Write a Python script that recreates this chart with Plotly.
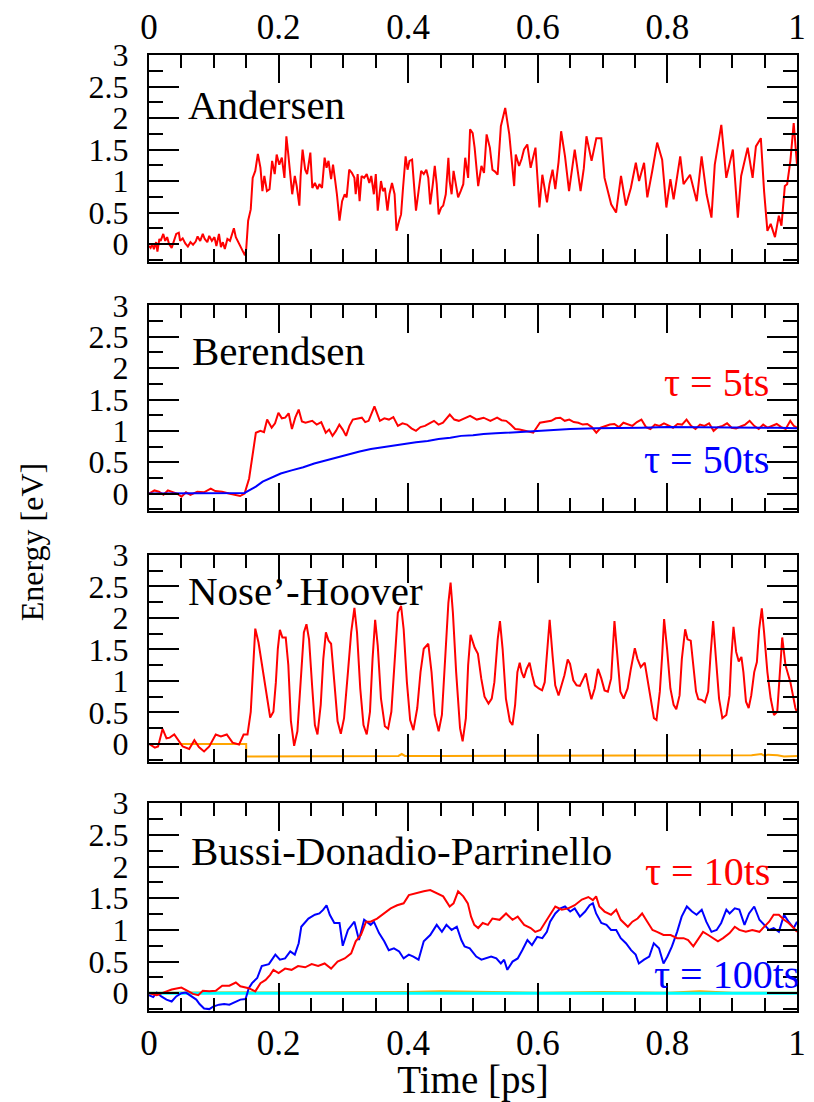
import plotly.graph_objects as go

# ---------------- data ----------------
# Panel 1: Andersen
and_t = [0.0, 0.0025, 0.005, 0.0076, 0.011, 0.013, 0.016, 0.018, 0.022, 0.025, 0.028, 0.031, 0.035, 0.038,
         0.042, 0.046, 0.048, 0.052, 0.056, 0.06, 0.064, 0.068, 0.072, 0.075, 0.079, 0.083, 0.086, 0.09,
         0.093, 0.097, 0.101, 0.104, 0.108, 0.111, 0.114, 0.117, 0.121, 0.125, 0.128, 0.131, 0.134, 0.137,
         0.14, 0.144, 0.148, 0.15, 0.153, 0.157, 0.16, 0.164, 0.168, 0.172, 0.175, 0.178, 0.182, 0.186,
         0.19, 0.194, 0.197, 0.201, 0.205, 0.209, 0.212, 0.215, 0.218, 0.221, 0.225, 0.228, 0.232, 0.234,
         0.237, 0.241, 0.244, 0.247, 0.249, 0.252, 0.256, 0.26, 0.263, 0.267, 0.271, 0.274, 0.277, 0.281,
         0.284, 0.287, 0.29, 0.294, 0.298, 0.302, 0.305, 0.309, 0.313, 0.317, 0.319, 0.322, 0.325, 0.328,
         0.332, 0.336, 0.34, 0.343, 0.347, 0.35, 0.353, 0.358, 0.361, 0.364, 0.368, 0.371, 0.375, 0.379,
         0.382, 0.386, 0.389, 0.392, 0.396, 0.399, 0.402, 0.406, 0.409, 0.412, 0.416, 0.42, 0.424, 0.428,
         0.431, 0.434, 0.438, 0.441, 0.444, 0.447, 0.451, 0.454, 0.458, 0.462, 0.464, 0.467, 0.47, 0.474,
         0.477, 0.481, 0.485, 0.488, 0.4925, 0.4955, 0.4995, 0.5025, 0.508, 0.513, 0.517, 0.521, 0.526,
         0.53, 0.534, 0.538, 0.543, 0.5497, 0.553, 0.556, 0.56, 0.5635, 0.566, 0.5711, 0.575, 0.5787,
         0.5838, 0.589, 0.5964, 0.6025, 0.607, 0.6142, 0.618, 0.6228, 0.627, 0.632, 0.636, 0.642, 0.6482,
         0.652, 0.657, 0.666, 0.671, 0.6751, 0.683, 0.6903, 0.698, 0.703, 0.708, 0.7132, 0.7208, 0.7284,
         0.736, 0.7436, 0.7513, 0.7563, 0.764, 0.769, 0.7766, 0.7842, 0.7919, 0.7984, 0.8046, 0.8096,
         0.8198, 0.8249, 0.835, 0.8452, 0.8528, 0.8604, 0.868, 0.8731, 0.8832, 0.8909, 0.901, 0.9087,
         0.9138, 0.9239, 0.9315, 0.9366, 0.9442, 0.9492, 0.9543, 0.9594, 0.966, 0.972, 0.976, 0.9812,
         0.9848, 0.9898, 0.9949, 1.0]
and_e = [-0.03, -0.06, 0.0, -0.08, 0.03, -0.12, 0.08, 0.05, 0.16, 0.05, 0.11, 0.0, -0.06, 0.05,
         0.16, 0.18, 0.05, 0.09, 0.01, -0.04, 0.03, -0.01, 0.04, 0.12, 0.05, 0.16, 0.08, 0.03,
         0.13, 0.05, 0.11, -0.03, 0.16, -0.05, 0.03, -0.08, 0.08, 0.05, 0.17, 0.25, 0.11, 0.05,
         0.0, -0.08, -0.18, -0.08, 0.37, 0.55, 1.05, 1.16, 1.43, 1.21, 0.84, 1.08, 0.84, 0.87,
         1.32, 1.11, 1.42, 1.26, 1.37, 1.05, 1.71, 1.42, 1.11, 0.79, 1.08, 0.92, 0.61, 1.08,
         1.5, 1.18, 1.11, 1.34, 1.45, 0.89, 0.97, 0.87, 0.95, 0.89, 1.37, 1.21, 1.32, 1.03,
         1.26, 1.03, 0.79, 0.37, 0.68, 0.79, 0.74, 1.18, 1.13, 1.05, 0.79, 1.11, 0.68, 1.08,
         1.05, 1.11, 0.97, 1.08, 0.79, 1.11, 0.53, 1.0, 0.84, 0.89, 0.53, 0.79, 0.97, 0.79,
         0.21, 0.37, 0.47, 0.89, 1.39, 1.18, 1.32, 1.34, 0.95, 0.53, 0.84, 1.16, 1.11, 1.18,
         1.05, 0.63, 0.95, 1.24, 0.95, 0.47, 0.58, 0.61, 0.79, 1.37, 1.0, 0.79, 1.16, 0.89,
         0.74, 0.84, 0.95, 1.37, 1.05, 1.82, 1.76, 1.53, 0.92, 1.24, 1.13, 1.74, 1.53,
         1.18, 1.15, 1.1, 1.87, 2.16, 1.95, 1.74, 1.3, 0.92, 1.42, 1.24, 1.35, 1.5,
         1.58, 1.21, 1.53, 0.58, 1.1, 0.66, 0.95, 1.18, 0.87, 1.3, 1.79, 1.39, 0.84,
         1.16, 1.5, 0.84, 1.2, 1.71, 1.32, 1.68, 1.68, 1.05, 0.85, 0.63, 0.5, 1.08,
         0.61, 0.89, 1.29, 1.0, 1.29, 0.74, 1.16, 1.61, 1.34, 0.58, 1.03, 0.71,
         1.39, 0.95, 1.1, 0.68, 1.39, 0.79, 0.42, 1.26, 1.89, 1.05, 1.5, 0.42,
         1.08, 1.53, 1.05, 1.55, 1.68, 0.84, 0.21, 0.32, 0.11, 0.45, 0.29, 0.92,
         0.95, 1.32, 1.92, 1.26]

# Panel 2: Berendsen
ber5_t = [0.0, 0.0084, 0.0153, 0.0223, 0.0292, 0.0362, 0.0431, 0.0501, 0.0571, 0.064, 0.0745, 0.0849,
          0.0953, 0.1023, 0.1127, 0.1232, 0.1336, 0.1406, 0.1475, 0.1545, 0.1649, 0.1719, 0.1775, 0.1823,
          0.1893, 0.1945, 0.1997, 0.205, 0.2102, 0.2155, 0.2206, 0.226, 0.231, 0.236, 0.2415, 0.2519,
          0.2588, 0.2658, 0.2728, 0.2780, 0.2832, 0.2885, 0.2937, 0.2990, 0.3041, 0.3093, 0.3145, 0.3215,
          0.3285, 0.3337, 0.3389, 0.3479, 0.3563, 0.3632, 0.3702, 0.3771, 0.3841, 0.3911, 0.3981, 0.405,
          0.412, 0.419, 0.4259, 0.4328, 0.4398, 0.4468, 0.4537, 0.4642, 0.4711, 0.4781, 0.4868, 0.4955,
          0.5059, 0.5163, 0.5268, 0.5372, 0.5441, 0.5511, 0.5581, 0.5651, 0.572, 0.579, 0.5859, 0.5929,
          0.6033, 0.612, 0.6207, 0.6277, 0.6347, 0.6416, 0.6486, 0.6555, 0.6625, 0.6694, 0.6764, 0.6833,
          0.6903, 0.6972, 0.7042, 0.7112, 0.7182, 0.7251, 0.7321, 0.739, 0.746, 0.753, 0.7599, 0.7669,
          0.7738, 0.7808, 0.7878, 0.7947, 0.8017, 0.8087, 0.8156, 0.8226, 0.8295, 0.8365, 0.8434, 0.8504,
          0.8573, 0.8643, 0.8713, 0.8782, 0.8852, 0.8921, 0.8991, 0.906, 0.913, 0.92, 0.9269, 0.9339,
          0.9409, 0.9478, 0.9548, 0.9617, 0.9687, 0.9757, 0.9826, 0.9896, 0.995, 1.0]
ber5_e = [0.0, 0.05, 0.03, -0.02, 0.05, 0.03, 0.0, -0.05, 0.02, -0.02, 0.03, 0.02,
          0.08, 0.04, 0.03, 0.0, -0.02, -0.04, 0.0, 0.24, 0.97, 1.0, 0.98, 1.18,
          1.05, 1.12, 1.29, 1.2, 1.21, 1.28, 1.03, 1.22, 1.34, 1.15, 1.13, 1.16,
          1.1, 1.14, 0.97, 1.02, 0.92, 1.0, 1.1, 1.02, 0.92, 1.08, 1.18, 1.2,
          1.21, 1.14, 1.16, 1.39, 1.16, 1.2, 1.18, 1.22, 1.08, 1.12, 1.1, 1.04,
          1.0, 1.06, 1.08, 1.12, 1.16, 1.1, 1.13, 1.26, 1.18, 1.16, 1.2, 1.24,
          1.18, 1.21, 1.16, 1.21, 1.17, 1.16, 1.1, 1.03, 1.02, 1.0, 0.98, 0.97,
          1.13, 1.14, 1.16, 1.2, 1.21, 1.16, 1.18, 1.14, 1.13, 1.1, 1.11, 1.06,
          0.97, 1.05, 1.08, 1.1, 1.11, 1.06, 1.13, 1.1, 1.08, 1.14, 1.18, 1.06,
          1.03, 1.1, 1.08, 1.12, 1.08, 1.05, 1.11, 1.1, 1.18, 1.08, 1.03, 1.1,
          1.08, 1.12, 1.0, 1.06, 1.08, 1.12, 1.05, 1.04, 1.07, 1.1, 1.16, 1.08,
          1.03, 1.1, 1.05, 1.08, 1.11, 1.06, 1.03, 1.16, 1.08, 1.05]

ber50_t = [0.0, 0.05, 0.1, 0.1475, 0.1545, 0.1649, 0.1754, 0.19, 0.2033, 0.22, 0.2381, 0.255, 0.2729,
           0.29, 0.3077, 0.325, 0.3424, 0.36, 0.3772, 0.395, 0.412, 0.43, 0.4468, 0.465, 0.4816, 0.5,
           0.5163, 0.535, 0.5511, 0.575, 0.5999, 0.6207, 0.65, 0.6903, 0.72, 0.7599, 0.8, 0.8295,
           0.87, 0.8991, 0.94, 0.97, 1.0]
ber50_e = [0.0, 0.0, 0.0, 0.01, 0.05, 0.11, 0.19, 0.26, 0.32, 0.37, 0.42, 0.48, 0.53,
           0.58, 0.62, 0.67, 0.71, 0.74, 0.76, 0.79, 0.82, 0.84, 0.87, 0.89, 0.92, 0.93,
           0.95, 0.96, 0.97, 0.99, 1.0, 1.02, 1.03, 1.04, 1.04, 1.05, 1.06, 1.06,
           1.06, 1.06, 1.05, 1.05, 1.04]

# Panel 3: Nose-Hoover
nh_t = [0.0, 0.0015, 0.009, 0.014, 0.021, 0.027, 0.032, 0.039, 0.045, 0.052, 0.062, 0.07, 0.077, 0.085,
        0.093, 0.103, 0.111, 0.12, 0.129, 0.139, 0.146, 0.152, 0.157, 0.1602, 0.164, 0.169, 0.175, 0.182,
        0.187, 0.192, 0.1958, 0.1988, 0.202, 0.2059, 0.2110, 0.215, 0.219, 0.224, 0.229, 0.234, 0.239,
        0.243, 0.247, 0.252, 0.256, 0.26, 0.265, 0.269, 0.273, 0.277, 0.281, 0.286, 0.291, 0.296, 0.301,
        0.307, 0.312, 0.317, 0.321, 0.326, 0.331, 0.336, 0.341, 0.345, 0.349, 0.353, 0.358, 0.364, 0.369,
        0.374, 0.379, 0.384, 0.389, 0.393, 0.398, 0.403, 0.408, 0.414, 0.419, 0.424, 0.431, 0.436, 0.441,
        0.447, 0.452, 0.457, 0.462, 0.4654, 0.469, 0.474, 0.48, 0.484, 0.489, 0.4925, 0.4962, 0.5025,
        0.5076, 0.5127, 0.5178, 0.5239, 0.5289, 0.533, 0.5381, 0.5416, 0.5457, 0.5508, 0.5569, 0.5609,
        0.565, 0.5685, 0.5721, 0.5751, 0.5787, 0.5827, 0.5873, 0.5914, 0.5954, 0.6015, 0.6066, 0.6107,
        0.6142, 0.6183, 0.6228, 0.6269, 0.632, 0.6371, 0.6411, 0.6462, 0.6497, 0.6548, 0.6599, 0.665,
        0.67, 0.6741, 0.6787, 0.6827, 0.6878, 0.6929, 0.698, 0.703, 0.7081, 0.7132, 0.7183, 0.7233,
        0.7274, 0.7325, 0.7386, 0.7436, 0.7497, 0.7538, 0.7589, 0.765, 0.769, 0.7741, 0.7792, 0.7832,
        0.7883, 0.7919, 0.7949, 0.7995, 0.8046, 0.8096, 0.8137, 0.8188, 0.8223, 0.8274, 0.831, 0.836,
        0.8401, 0.8442, 0.8477, 0.8528, 0.8579, 0.8629, 0.8665, 0.8706, 0.8746, 0.8797, 0.8848, 0.8909,
        0.8959, 0.8985, 0.902, 0.9061, 0.9101, 0.9142, 0.9173, 0.9213, 0.9254, 0.9294, 0.934, 0.9381,
        0.9416, 0.9457, 0.9492, 0.9543, 0.9594, 0.9645, 0.9695, 0.972, 0.9772, 0.9822, 0.9898, 0.9975,
        1.0]
nh_e = [0.0, -0.01, -0.06, -0.04, 0.24, 0.09, 0.1, 0.15, 0.07, -0.04, -0.08, 0.06, -0.05, -0.12,
        -0.04, 0.15, 0.12, 0.15, 0.02, -0.01, 0.15, 0.15, 0.51, 1.14, 1.83, 1.61, 1.19, 0.72,
        0.42, 0.51, 0.98, 1.51, 1.81, 1.69, 1.69, 1.25, 0.36, -0.03, 0.2, 0.98, 1.77,
        1.9, 1.66, 0.88, 0.3, 0.15, 0.62, 1.35, 1.77, 1.64, 1.59, 0.98, 0.36, 0.16, 0.41,
        1.14, 1.77, 2.16, 1.77, 0.88, 0.3, 0.15, 0.51, 1.35, 1.97, 1.56, 0.72, 0.28, 0.24,
        0.51, 1.35, 2.08, 2.19, 1.82, 0.98, 0.38, 0.22, 0.57, 1.14, 1.51, 1.59, 1.14, 0.46,
        0.2, 0.46, 1.4, 2.24, 2.56, 2.08, 1.14, 0.25, 0.04, 0.41, 1.25, 1.73, 1.53,
        1.43, 1.04, 0.75, 0.64, 0.72, 0.98, 1.66, 1.95, 1.51, 0.72, 0.36, 0.3,
        0.62, 1.14, 1.29, 1.14, 1.05, 1.19, 1.29, 1.09, 0.93, 0.88, 0.85, 0.98,
        1.4, 1.97, 1.4, 0.93, 0.77, 0.93, 1.09, 1.34, 1.27, 1.01, 0.93, 0.92,
        1.04, 1.12, 0.88, 0.71, 0.88, 1.19, 1.04, 0.85, 0.83, 1.04, 1.95, 1.3,
        0.83, 0.72, 0.88, 1.19, 1.52, 1.35, 1.22, 1.29, 1.04, 0.72, 0.41, 0.38,
        0.83, 1.4, 1.98, 1.51, 0.88, 0.62, 0.55, 0.77, 1.35, 1.82, 1.66, 1.64,
        1.19, 0.83, 0.71, 0.7, 0.66, 0.83, 1.4, 1.95, 1.4, 0.72, 0.41, 0.46,
        0.77, 1.35, 1.86, 1.46, 1.31, 1.38, 1.14, 0.67, 0.57, 0.77, 1.14, 1.3,
        1.82, 2.15, 1.77, 1.14, 0.72, 0.46, 0.51, 0.9, 1.69, 1.25, 0.98, 0.57,
        0.5]

nh_orange_t = [0.0, 0.15, 0.1501, 0.2, 0.25, 0.3, 0.35, 0.385, 0.39, 0.395, 0.45, 0.5, 0.55, 0.6, 0.65,
               0.7, 0.75, 0.8, 0.85, 0.9, 0.93, 0.945, 0.95, 0.955, 0.97, 0.98, 1.0]
nh_orange_e = [0.0, 0.0, -0.2, -0.2, -0.2, -0.19, -0.19, -0.19, -0.16, -0.19, -0.19, -0.19, -0.19, -0.18,
               -0.18, -0.19, -0.18, -0.18, -0.19, -0.18, -0.18, -0.16, -0.19, -0.17, -0.18, -0.2, -0.19]

# Panel 4: Bussi-Donadio-Parrinello
bdp10_t = [0.0, 0.012, 0.022, 0.035, 0.05, 0.057, 0.068, 0.076, 0.083, 0.093, 0.103, 0.113, 0.124, 0.134,
           0.141, 0.154, 0.164, 0.172, 0.18, 0.187, 0.192, 0.2, 0.21, 0.22, 0.23, 0.241, 0.251, 0.261,
           0.271, 0.281, 0.291, 0.302, 0.312, 0.319, 0.327, 0.335, 0.342, 0.352, 0.363, 0.373, 0.383,
           0.393, 0.401, 0.411, 0.424, 0.434, 0.444, 0.454, 0.464, 0.47, 0.477, 0.485, 0.492, 0.497,
           0.502, 0.508, 0.515, 0.523, 0.53, 0.541, 0.551, 0.561, 0.569, 0.579, 0.589, 0.596, 0.604,
           0.612, 0.619, 0.627, 0.637, 0.647, 0.657, 0.668, 0.678, 0.685, 0.69, 0.695, 0.703, 0.713,
           0.721, 0.728, 0.739, 0.746, 0.754, 0.761, 0.769, 0.777, 0.784, 0.794, 0.805, 0.815, 0.825,
           0.832, 0.84, 0.848, 0.855, 0.863, 0.871, 0.878, 0.886, 0.896, 0.904, 0.911, 0.921, 0.931,
           0.942, 0.949, 0.957, 0.964, 0.972, 0.98, 0.987, 0.995, 1.0]
bdp10_e = [0.0, -0.03, 0.01, 0.06, 0.09, 0.05, -0.01, -0.03, 0.04, 0.03, 0.04, 0.12, 0.12, 0.17,
           0.11, 0.08, 0.03, 0.16, 0.21, 0.29, 0.37, 0.32, 0.39, 0.37, 0.43, 0.41, 0.46, 0.43,
           0.47, 0.39, 0.5, 0.55, 0.63, 0.82, 0.92, 1.13, 1.13, 1.18, 1.26, 1.34, 1.39,
           1.42, 1.55, 1.58, 1.61, 1.63, 1.58, 1.53, 1.37, 1.42, 1.61, 1.53, 1.42, 1.21,
           1.08, 1.03, 1.11, 1.08, 1.18, 1.16, 1.26, 1.16, 1.21, 1.08, 1.03, 0.97, 1.0,
           1.13, 1.26, 1.37, 1.32, 1.34, 1.39, 1.48, 1.52, 1.47, 1.53, 1.37, 1.29, 1.24,
           1.32, 1.16, 1.05, 1.13, 1.18, 1.26, 1.13, 1.0, 0.97, 0.92, 0.92, 0.87, 0.87,
           0.84, 0.74, 0.87, 0.97, 0.92, 0.87, 0.82, 0.87, 0.95, 1.05, 1.0, 0.97, 1.0,
           0.97, 1.05, 1.13, 1.24, 1.24, 1.16, 1.11, 1.03, 0.97]

bdp100_t = [0.0, 0.0065, 0.012, 0.019, 0.027, 0.035, 0.042, 0.05, 0.057, 0.065, 0.073, 0.078, 0.085,
            0.093, 0.099, 0.108, 0.116, 0.124, 0.134, 0.141, 0.149, 0.154, 0.159, 0.167, 0.174, 0.185,
            0.195, 0.202, 0.21, 0.218, 0.225, 0.231, 0.235, 0.246, 0.256, 0.263, 0.269, 0.274, 0.279,
            0.286, 0.294, 0.299, 0.307, 0.317, 0.324, 0.332, 0.342, 0.347, 0.355, 0.363, 0.37, 0.378,
            0.386, 0.393, 0.401, 0.408, 0.416, 0.424, 0.434, 0.444, 0.452, 0.459, 0.467, 0.475, 0.482,
            0.487, 0.495, 0.505, 0.513, 0.52, 0.528, 0.536, 0.543, 0.548, 0.553, 0.561, 0.569, 0.576,
            0.584, 0.591, 0.599, 0.607, 0.614, 0.619, 0.627, 0.635, 0.642, 0.65, 0.657, 0.665, 0.673,
            0.68, 0.685, 0.69, 0.698, 0.706, 0.713, 0.721, 0.728, 0.736, 0.744, 0.751, 0.756, 0.764,
            0.772, 0.779, 0.787, 0.794, 0.8, 0.807, 0.815, 0.822, 0.83, 0.838, 0.845, 0.853, 0.86,
            0.868, 0.876, 0.883, 0.891, 0.896, 0.904, 0.911, 0.919, 0.926, 0.934, 0.942, 0.949, 0.957,
            0.964, 0.972, 0.98, 0.987, 0.995, 1.0]
bdp100_e = [-0.03, -0.06, 0.01, -0.05, -0.1, -0.13, -0.05, 0.0, 0.01, -0.04, -0.1, -0.17, -0.24,
            -0.25, -0.21, -0.18, -0.17, -0.18, -0.13, -0.1, -0.09, 0.08, 0.16, 0.24, 0.43, 0.46,
            0.61, 0.53, 0.55, 0.66, 0.61, 0.79, 1.05, 1.18, 1.24, 1.26, 1.32, 1.39, 1.24,
            1.11, 1.11, 0.75, 1.0, 1.13, 0.84, 1.16, 1.08, 1.13, 0.95, 0.82, 0.68, 0.71,
            0.66, 0.55, 0.61, 0.58, 0.53, 0.82, 0.92, 1.08, 0.97, 1.08, 1.0, 1.05, 0.84,
            0.74, 0.71, 0.58, 0.53, 0.55, 0.58, 0.55, 0.47, 0.53, 0.37, 0.5, 0.55, 0.68,
            0.84, 0.76, 0.89, 0.87, 0.97, 1.13, 1.26, 1.34, 1.37, 1.29, 1.34, 1.21, 1.29,
            1.39, 1.42, 1.26, 1.11, 1.08, 1.0, 1.0, 0.87, 0.79, 0.68, 0.61, 0.47, 0.53,
            0.58, 0.79, 0.71, 0.47, 0.58, 0.74, 0.97, 1.21, 1.37, 1.29, 1.24, 1.32, 1.13,
            0.97, 1.0, 1.11, 1.32, 1.26, 1.34, 1.32, 1.08, 1.26, 1.37, 1.16, 1.08, 1.0,
            1.03, 0.97, 1.24, 1.13, 1.03, 1.13]

bdp_orange_t = [0.0, 0.1, 0.2, 0.3, 0.4, 0.45, 0.5, 0.6, 0.7, 0.8, 0.85, 0.9, 1.0]
bdp_orange_e = [0.01, 0.01, 0.01, 0.01, 0.02, 0.03, 0.02, 0.01, 0.02, 0.01, 0.03, 0.01, 0.01]
bdp_cyan_t = [0.0, 0.1, 0.2, 0.3, 0.4, 0.5, 0.6, 0.7, 0.8, 0.9, 1.0]
bdp_cyan_e = [0.0, 0.0, 0.01, 0.0, 0.0, 0.01, 0.0, 0.0, 0.01, 0.0, 0.0]

panel_titles = ["Andersen", "Berendsen", "Nose\u2019-Hoover", "Bussi-Donadio-Parrinello"]
x_title = "Time [ps]"
y_title = "Energy [eV]"

# ---------------- figure ----------------
RED, BLUE, ORANGE, CYAN = "#ff0000", "#0000ff", "#ffa500", "#00ffff"
FONT = "Liberation Serif, Times New Roman, serif"

fig = go.Figure()

def line(t, e, color, ax, width=2):
    fig.add_trace(go.Scatter(x=t, y=e, mode="lines", line=dict(color=color, width=width),
                             xaxis="x" + ax, yaxis="y" + ax, showlegend=False, hoverinfo="skip"))

line(and_t, and_e, RED, "")
line(ber5_t, ber5_e, RED, "2")
line(ber50_t, ber50_e, BLUE, "2")
line(nh_orange_t, nh_orange_e, ORANGE, "3")
line(nh_t, nh_e, RED, "3")
line(bdp_orange_t, bdp_orange_e, ORANGE, "4")
line(bdp_cyan_t, bdp_cyan_e, CYAN, "4", 3)
line(bdp100_t, bdp100_e, BLUE, "4")
line(bdp10_t, bdp10_e, RED, "4")

domains = [[0.7838, 1.0], [0.5229, 0.738], [0.2609, 0.4771], [0.0, 0.2173]]
layout = dict(width=814, height=1102, margin=dict(l=149, r=8, t=50, b=90),
              paper_bgcolor="white", plot_bgcolor="white",
              font=dict(family=FONT, size=34, color="black"))

for i, dom in enumerate(domains, start=1):
    sx = "" if i == 1 else str(i)
    xa = dict(domain=[0, 1], range=[0, 1], anchor="y" + sx, showgrid=False, zeroline=False,
              showline=True, linecolor="black", linewidth=2, mirror="allticks",
              ticks="inside", ticklen=28, tickwidth=2, tickcolor="black",
              tick0=0, dtick=0.2,
              minor=dict(ticks="inside", ticklen=13, tickwidth=2, tickcolor="black", dtick=0.05, showgrid=False),
              showticklabels=(i in (1, 4)), tickfont=dict(size=35, family=FONT))
    if i == 1:
        xa["side"] = "top"
    if i == 4:
        xa["title"] = dict(text=x_title, font=dict(size=39, family=FONT), standoff=4)
    ya = dict(domain=dom, range=[-0.28, 3.0], anchor="x" + sx, showgrid=False, zeroline=False,
              showline=True, linecolor="black", linewidth=2, mirror="allticks",
              ticks="inside", ticklen=30, tickwidth=2, tickcolor="black",
              tick0=0, dtick=0.5,
              minor=dict(ticks="inside", ticklen=14, tickwidth=2, tickcolor="black", dtick=0.25, showgrid=False),
              tickfont=dict(size=32, family=FONT), ticklabelstandoff=12)
    layout["xaxis" + sx] = xa
    layout["yaxis" + sx] = ya

ann = []
label_pos = [(0.057, 2.2), (0.063, 2.27), (0.057, 2.42), (0.062, 2.24)]
for i, (txt, (ax_, ay_)) in enumerate(zip(panel_titles, label_pos), start=1):
    sx = "" if i == 1 else str(i)
    ann.append(dict(text=txt, x=ax_, y=ay_, xref="x" + sx, yref="y" + sx, xanchor="left", yanchor="middle",
                    showarrow=False, font=dict(size=41, family=FONT, color="black")))
tau_labels = [("\u03c4 = 5ts", RED, "2", 0.96, 1.77, 0), ("\u03c4 = 50ts", BLUE, "2", 0.96, 0.54, 0),
              ("\u03c4 = 10ts", RED, "4", 0.962, 1.93, 0), ("\u03c4 = 100ts", BLUE, "4", 1.0, 0.3, 4)]
for txt, col, ax_, xx, yy, xs in tau_labels:
    ann.append(dict(text=txt, x=xx, y=yy, xref="x" + ax_, yref="y" + ax_, xanchor="right", yanchor="middle",
                    xshift=xs, showarrow=False, font=dict(size=40, family=FONT, color=col)))
ann.append(dict(text=y_title, x=-0.181, y=0.49, xref="paper", yref="paper", textangle=-90,
                xanchor="center", yanchor="middle", showarrow=False,
                font=dict(size=32, family=FONT, color="black")))
layout["annotations"] = ann

fig.update_layout(**layout)
fig.write_html("out.html")
